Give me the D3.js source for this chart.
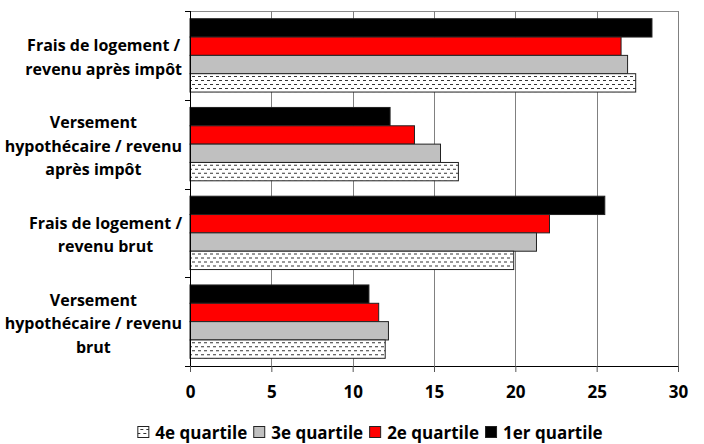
<!DOCTYPE html>
<html>
<head>
<meta charset="utf-8">
<script src="https://cdn.jsdelivr.net/npm/d3@7"></script>
<style>
  html, body { margin: 0; padding: 0; background: #fff; }
  svg { display: block; font-family: "Open Sans", "Lato", sans-serif; font-weight: 700; }
</style>
</head>
<body>
<svg id="chart" width="704" height="444"></svg>
<script>
// Ratios (%) per quartile for each housing-cost measure
const categories = [
  ["Frais de logement /", "revenu après impôt"],
  ["Versement", "hypothécaire / revenu", "après impôt"],
  ["Frais de logement /", "revenu brut"],
  ["Versement", "hypothécaire / revenu", "brut"]
];
const seriesNames = ["4e quartile", "3e quartile", "2e quartile", "1er quartile"];
const q4 = [27.4, 16.5, 19.9, 12.0];
const q3 = [26.9, 15.4, 21.3, 12.2];
const q2 = [26.5, 13.8, 22.1, 11.6];
const q1 = [28.4, 12.3, 25.5, 11.0];
const xTicks = [0, 5, 10, 15, 20, 25, 30];

const seriesValues = { "4e quartile": q4, "3e quartile": q3, "2e quartile": q2, "1er quartile": q1 };
const fills = { "4e quartile": "url(#dashes)", "3e quartile": "#c0c0c0", "2e quartile": "#ff0000", "1er quartile": "#000000" };

const svg = d3.select("#chart");
const plot = { left: 190, right: 678, top: 11, bottom: 366 };

// dashed horizontal fill
const defs = svg.append("defs");
const pat = defs.append("pattern").attr("id", "dashes")
  .attr("patternUnits", "userSpaceOnUse").attr("width", 6).attr("height", 8);
pat.append("rect").attr("width", 6).attr("height", 8).attr("fill", "#fff");
pat.append("rect").attr("x", 0).attr("y", 1).attr("width", 3).attr("height", 1).attr("fill", "#333");
pat.append("rect").attr("x", 3).attr("y", 5).attr("width", 3).attr("height", 1).attr("fill", "#333");

const x = d3.scaleLinear().domain([0, 30]).range([plot.left, plot.right]);
const catIdx = d3.range(categories.length);
const y0 = d3.scaleBand().domain(catIdx).range([plot.top, plot.bottom]);
// bars stacked top to bottom: 1er, 2e, 3e, 4e
const barOrder = ["1er quartile", "2e quartile", "3e quartile", "4e quartile"];
const y1 = d3.scaleBand().domain(barOrder).range([0, y0.bandwidth()]).paddingInner(0).paddingOuter(0.42);

// top border of plot area
svg.append("line")
  .attr("x1", plot.left).attr("x2", plot.right)
  .attr("y1", plot.top + 0.5).attr("y2", plot.top + 0.5)
  .attr("stroke", "#8c8c8c").attr("stroke-width", 1);

// vertical gridlines
svg.append("g").selectAll("line").data(xTicks.filter(d => d > 0)).join("line")
  .attr("x1", d => Math.round(x(d)) + 0.5).attr("x2", d => Math.round(x(d)) + 0.5)
  .attr("y1", plot.top).attr("y2", plot.bottom)
  .attr("stroke", "#808080").attr("stroke-width", 1);

// bars
const groups = svg.append("g").selectAll("g").data(catIdx).join("g")
  .attr("transform", i => `translate(0,${y0(i)})`);
groups.selectAll("rect").data(i => barOrder.map(s => ({ s, v: seriesValues[s][i] }))).join("rect")
  .attr("x", x(0))
  .attr("y", d => y1(d.s))
  .attr("width", d => x(d.v) - x(0))
  .attr("height", y1.bandwidth())
  .attr("fill", d => fills[d.s])
  .attr("stroke", "#222").attr("stroke-width", 1);

// x axis
const xAxis = svg.append("g").attr("transform", `translate(0,${plot.bottom})`)
  .call(d3.axisBottom(x).tickValues(xTicks).tickSize(6).tickPadding(20).tickFormat(d3.format("d")));
xAxis.select(".domain").attr("stroke", "#000");
xAxis.selectAll(".tick line").attr("stroke", "#555");
xAxis.selectAll("text").attr("font-size", 17).attr("fill", "#000")
  .attr("font-family", "'Open Sans', sans-serif").attr("font-weight", 700).attr("dy", "0.35em");

// y axis with ticks at category boundaries
const yEdges = catIdx.map(i => y0(i)).concat([plot.bottom]);
const yAxis = svg.append("g");
yAxis.append("line").attr("x1", plot.left + 0.5).attr("x2", plot.left + 0.5)
  .attr("y1", plot.top).attr("y2", plot.bottom).attr("stroke", "#000");
yAxis.selectAll("line.tk").data(yEdges).join("line").attr("class", "tk")
  .attr("x1", plot.left - 5).attr("x2", plot.left)
  .attr("y1", d => Math.round(d) + 0.5).attr("y2", d => Math.round(d) + 0.5)
  .attr("stroke", "#000");

// category labels: centred lines, block right-aligned against the axis
const lineH = 23.5, capH = 12;
catIdx.forEach(i => {
  const lines = categories[i];
  const c = y0(i) + y0.bandwidth() / 2;
  const b0 = c + 1.5 + capH / 2 - (lines.length - 1) * lineH / 2;
  const g = svg.append("g");
  const texts = g.selectAll("text").data(lines).join("text")
    .attr("font-size", 16).attr("fill", "#000")
    .attr("y", (d, k) => b0 + k * lineH)
    .attr("text-anchor", "middle")
    .text(d => d);
  let maxW = 0;
  texts.each(function () { maxW = Math.max(maxW, this.getComputedTextLength()); });
  texts.attr("x", 182 - maxW / 2);
});

// legend
const legend = svg.append("g");
let lx = 0;
seriesNames.forEach(s => {
  const item = legend.append("g").attr("transform", `translate(${lx},0)`);
  item.append("rect").attr("x", 0.5).attr("y", 426.5).attr("width", 11).attr("height", 11)
    .attr("fill", fills[s]).attr("stroke", "#222");
  const t = item.append("text").attr("x", 18).attr("y", 439).attr("font-size", 17).attr("fill", "#000").text(s);
  lx += 18 + t.node().getComputedTextLength() + 6;
});
lx -= 6;
legend.attr("transform", `translate(${370 - lx / 2},0)`);
</script>
</body>
</html>
